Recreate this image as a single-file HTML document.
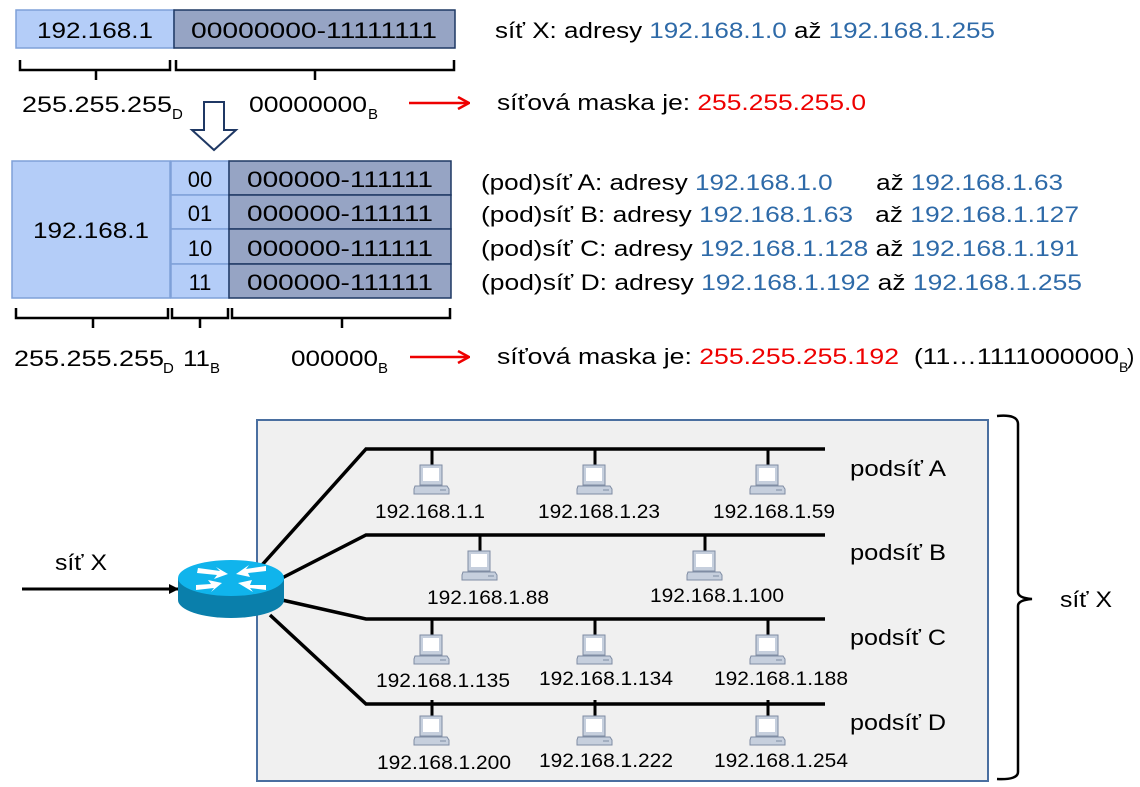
<!DOCTYPE html>
<html><head><meta charset="utf-8"><style>
html,body{margin:0;padding:0;background:#fff;}
svg{display:block;font-family:"Liberation Sans",sans-serif;}
text{white-space:pre;}
</style></head><body>
<svg width="1140" height="787" viewBox="0 0 1140 787">
<defs>
<g id="pc">
 <line x1="0" y1="-16" x2="0" y2="0" stroke="#000" stroke-width="3"/>
 <rect x="-12" y="0" width="22" height="20" fill="#c6cfdd" stroke="#7f8ca3" stroke-width="1"/>
 <rect x="-9" y="3" width="16" height="13" fill="#fff"/>
 <polygon points="-17,21 15,21 17,24 17,29 -18,29 -18,24" fill="#c6cfdd" stroke="#7f8ca3" stroke-width="1"/>
 <line x1="8" y1="25" x2="14" y2="25" stroke="#7f8ca3"/>
</g>
<marker id="ar" markerWidth="10" markerHeight="10" refX="9" refY="5" orient="auto" markerUnits="userSpaceOnUse"><path d="M0,0 L10,5 L0,10 z" fill="#000"/></marker>
<marker id="rr" markerWidth="14" markerHeight="14" refX="13" refY="7" orient="auto" markerUnits="userSpaceOnUse"><path d="M2,1 L13,7 L2,13" fill="none" stroke="#e00" stroke-width="2.5"/></marker>
</defs>

<rect x="16" y="10" width="158" height="38" fill="#b4cdf8" stroke="#7fa0d8" stroke-width="1.5"/>
<rect x="174" y="10" width="281" height="38" fill="#96a4c4" stroke="#1f3864" stroke-width="1.5"/>
<text x="95" y="38" font-size="22" text-anchor="middle" textLength="116" lengthAdjust="spacingAndGlyphs">192.168.1</text>
<text x="314" y="38" font-size="22" text-anchor="middle" textLength="246" lengthAdjust="spacingAndGlyphs">00000000-11111111</text>
<path d="M20,60 v10 h150 v-10 M96,70 v10 M176,60 v10 h278 v-10 M315,70 v10" fill="none" stroke="#000" stroke-width="2.5"/>
<text x="22" y="112" font-size="22" textLength="150" lengthAdjust="spacingAndGlyphs">255.255.255</text>
<text x="172" y="119" font-size="15">D</text>
<text x="249" y="112" font-size="22" textLength="118" lengthAdjust="spacingAndGlyphs">00000000</text>
<text x="368" y="119" font-size="15">B</text>
<polygon points="204,102 224,102 224,130 236,130 214,150 192,130 204,130" fill="#fff" stroke="#1f3864" stroke-width="2"/>
<line x1="409" y1="103" x2="469" y2="103" stroke="#e00" stroke-width="2.5" marker-end="url(#rr)"/>

<text x="495" y="38" font-size="22" textLength="500" lengthAdjust="spacingAndGlyphs">síť X: adresy <tspan fill="#2e6aa8">192.168.1.0</tspan> až <tspan fill="#2e6aa8">192.168.1.255</tspan></text>
<text x="497" y="110" font-size="22" textLength="369" lengthAdjust="spacingAndGlyphs">síťová maska je: <tspan fill="#e00">255.255.255.0</tspan></text>

<rect x="12" y="161" width="158" height="137" fill="#b4cdf8" stroke="#7fa0d8" stroke-width="1.5"/>
<text x="91" y="238" font-size="22" text-anchor="middle" textLength="116" lengthAdjust="spacingAndGlyphs">192.168.1</text>
<g stroke="#7fa0d8" stroke-width="1.5" fill="#b4cdf8">
<rect x="171" y="161" width="58" height="34"/><rect x="171" y="195" width="58" height="34"/>
<rect x="171" y="229" width="58" height="35"/><rect x="171" y="264" width="58" height="34"/>
</g>
<g stroke="#1f3864" stroke-width="1.5" fill="#96a4c4">
<rect x="229" y="161" width="222" height="34"/><rect x="229" y="195" width="222" height="34"/>
<rect x="229" y="229" width="222" height="35"/><rect x="229" y="264" width="222" height="34"/>
</g>
<g font-size="22" text-anchor="middle">
<text x="200" y="187">00</text><text x="200" y="221">01</text><text x="200" y="256">10</text><text x="200" y="290">11</text>
<text x="340" y="187" textLength="186" lengthAdjust="spacingAndGlyphs">000000-111111</text>
<text x="340" y="221" textLength="186" lengthAdjust="spacingAndGlyphs">000000-111111</text>
<text x="340" y="256" textLength="186" lengthAdjust="spacingAndGlyphs">000000-111111</text>
<text x="340" y="290" textLength="186" lengthAdjust="spacingAndGlyphs">000000-111111</text>
</g>
<path d="M16,308 v10 h152 v-10 M93,318 v10 M172,308 v10 h56 v-10 M200,318 v10 M232,308 v10 h218 v-10 M342,318 v10" fill="none" stroke="#000" stroke-width="2.5"/>
<text x="14" y="366" font-size="22" textLength="150" lengthAdjust="spacingAndGlyphs">255.255.255</text>
<text x="163" y="373" font-size="15">D</text>
<text x="183" y="366" font-size="22" textLength="27" lengthAdjust="spacingAndGlyphs">11</text>
<text x="210" y="373" font-size="15">B</text>
<text x="291" y="366" font-size="22" textLength="87" lengthAdjust="spacingAndGlyphs">000000</text>
<text x="378" y="373" font-size="15">B</text>
<line x1="410" y1="357" x2="469" y2="357" stroke="#e00" stroke-width="2.5" marker-end="url(#rr)"/>

<g font-size="22">
<text x="481" y="190" textLength="582" lengthAdjust="spacingAndGlyphs">(pod)síť A: adresy <tspan fill="#2e6aa8">192.168.1.0</tspan>      až <tspan fill="#2e6aa8">192.168.1.63</tspan></text>
<text x="481" y="222" textLength="598" lengthAdjust="spacingAndGlyphs">(pod)síť B: adresy <tspan fill="#2e6aa8">192.168.1.63</tspan>   až <tspan fill="#2e6aa8">192.168.1.127</tspan></text>
<text x="481" y="256" textLength="598" lengthAdjust="spacingAndGlyphs">(pod)síť C: adresy <tspan fill="#2e6aa8">192.168.1.128</tspan> až <tspan fill="#2e6aa8">192.168.1.191</tspan></text>
<text x="481" y="290" textLength="601" lengthAdjust="spacingAndGlyphs">(pod)síť D: adresy <tspan fill="#2e6aa8">192.168.1.192</tspan> až <tspan fill="#2e6aa8">192.168.1.255</tspan></text>
<text x="497" y="364" textLength="622" lengthAdjust="spacingAndGlyphs">síťová maska je: <tspan fill="#e00">255.255.255.192</tspan>  (11…1111000000</text>
</g>
<text x="1119" y="372" font-size="14">B</text><text x="1127" y="364" font-size="22">)</text>

<rect x="257" y="420" width="731" height="361" fill="#f0f0f0" stroke="#4a6fa0" stroke-width="2"/>
<g stroke="#000" stroke-width="3.5" fill="none">
<path d="M262,565 L366,449 H825"/>
<path d="M282,578 L366,535 H825"/>
<path d="M282,600 L366,619 H825"/>
<path d="M270,615 L366,704 H825"/>
</g>
<g>
<use href="#pc" x="432" y="465"/><use href="#pc" x="595" y="465"/><use href="#pc" x="768" y="465"/>
<use href="#pc" x="480" y="551"/><use href="#pc" x="705" y="551"/>
<use href="#pc" x="432" y="635"/><use href="#pc" x="595" y="635"/><use href="#pc" x="768" y="635"/>
<use href="#pc" x="432" y="716"/><use href="#pc" x="595" y="716"/><use href="#pc" x="768" y="716"/>
</g>
<g font-size="19" text-anchor="middle">
<text x="430" y="518" textLength="110" lengthAdjust="spacingAndGlyphs">192.168.1.1</text>
<text x="599" y="518" textLength="122" lengthAdjust="spacingAndGlyphs">192.168.1.23</text>
<text x="774" y="518" textLength="122" lengthAdjust="spacingAndGlyphs">192.168.1.59</text>
<text x="488" y="604" textLength="122" lengthAdjust="spacingAndGlyphs">192.168.1.88</text>
<text x="717" y="602" textLength="134" lengthAdjust="spacingAndGlyphs">192.168.1.100</text>
<text x="443" y="687" textLength="134" lengthAdjust="spacingAndGlyphs">192.168.1.135</text>
<text x="606" y="685" textLength="134" lengthAdjust="spacingAndGlyphs">192.168.1.134</text>
<text x="781" y="685" textLength="134" lengthAdjust="spacingAndGlyphs">192.168.1.188</text>
<text x="444" y="769" textLength="134" lengthAdjust="spacingAndGlyphs">192.168.1.200</text>
<text x="606" y="767" textLength="134" lengthAdjust="spacingAndGlyphs">192.168.1.222</text>
<text x="781" y="767" textLength="134" lengthAdjust="spacingAndGlyphs">192.168.1.254</text>
</g>
<g font-size="22">
<text x="850" y="476" textLength="96" lengthAdjust="spacingAndGlyphs">podsíť A</text>
<text x="850" y="560" textLength="96" lengthAdjust="spacingAndGlyphs">podsíť B</text>
<text x="850" y="645" textLength="96" lengthAdjust="spacingAndGlyphs">podsíť C</text>
<text x="850" y="730" textLength="96" lengthAdjust="spacingAndGlyphs">podsíť D</text>
<text x="1060" y="607" textLength="52" lengthAdjust="spacingAndGlyphs">síť X</text>
<text x="55" y="570" textLength="52" lengthAdjust="spacingAndGlyphs">síť X</text>
</g>
<path d="M997,416 Q1018,414 1018,424 V592 Q1018,598 1032,599 Q1018,600 1018,606 V772 Q1018,780 997,779" fill="none" stroke="#000" stroke-width="2.5"/>

<line x1="22" y1="589" x2="178" y2="589" stroke="#000" stroke-width="3" marker-end="url(#ar)"/>
<path d="M178,578 V600 A53,18 0 0 0 284,600 V578 Z" fill="#0a7fab"/>
<ellipse cx="231" cy="578" rx="53" ry="18" fill="#10b4ec"/>
<g fill="#fff">
<polygon points="198,568 220,571 216,567 228,574 214,579 217,575 197,573"/>
<polygon points="266,566 246,569 249,565 236,574 250,577 248,573 266,571"/>
<polygon points="196,590 214,588 211,592 222,583 208,580 211,584 196,585"/>
<polygon points="266,590 250,588 253,592 238,583 252,580 250,585 266,585"/>
</g>
</svg>
</body></html>
